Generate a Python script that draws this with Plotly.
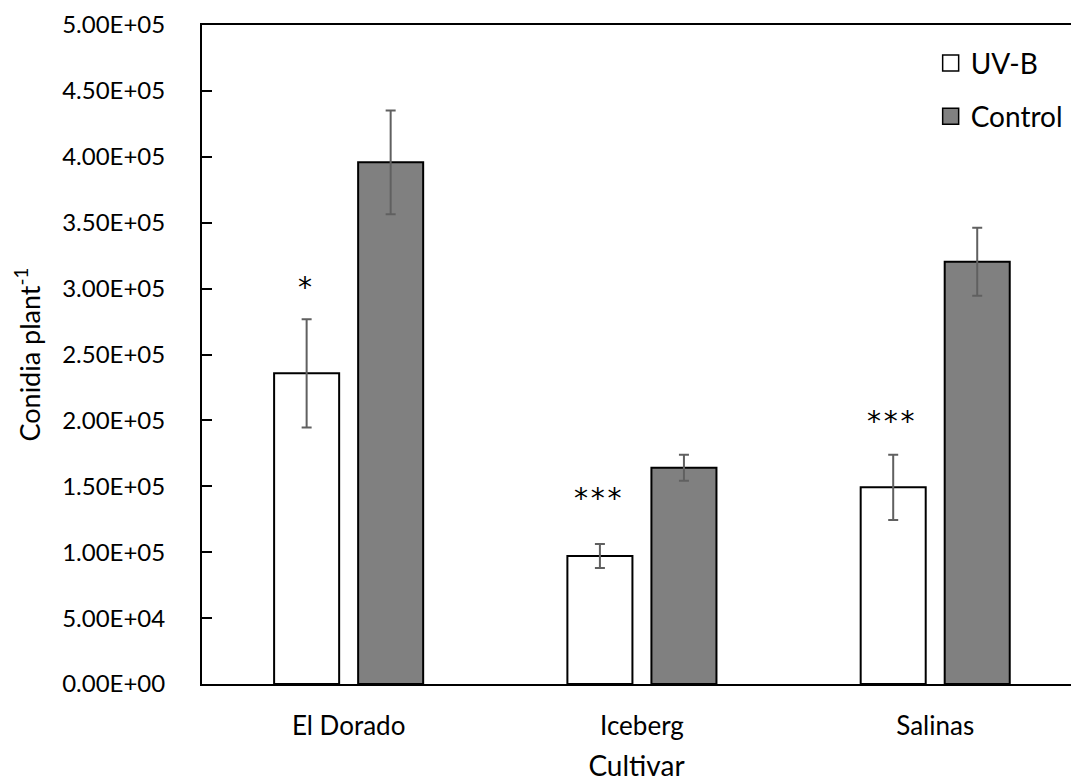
import plotly.graph_objects as go

# Conidia production per plant for three lettuce cultivars
cultivars = ["El Dorado", "Iceberg", "Salinas"]
uvb_mean = [235700, 97100, 149200]
uvb_err = [41000, 9100, 24800]
control_mean = [395800, 164100, 320400]
control_err = [39300, 9900, 25800]
significance = ["*", "***", "***"]

y_ticks = [i * 50000 for i in range(11)]
y_labels = [f"{v:.2E}" for v in y_ticks]

FONT = "Lato"
BAR_EDGE = dict(color="black", width=2)
ERR_STYLE = dict(type="data", visible=True, color="#606060", thickness=2, width=5)

fig = go.Figure()

fig.add_trace(go.Bar(
    x=cultivars, y=uvb_mean, name="UV-B",
    marker=dict(color="white", line=BAR_EDGE),
    error_y=dict(array=uvb_err, **ERR_STYLE),
    showlegend=False,
))
fig.add_trace(go.Bar(
    x=cultivars, y=control_mean, name="Control",
    marker=dict(color="#808080", line=BAR_EDGE),
    error_y=dict(array=control_err, **ERR_STYLE),
    showlegend=False,
))

# Legend entries with square swatches
for name, fill, grp in [("UV-B", "white", "a"), ("Control", "#808080", "b")]:
    fig.add_trace(go.Scatter(
        x=[None], y=[None], mode="markers", name=name, legendgroup=grp,
        marker=dict(symbol="square", size=16, color=fill,
                    line=dict(color="black", width=1.5)),
    ))

# Significance markers above the UV-B bars
star_offset = [28000, 38000, 29000]
for i, (c, s) in enumerate(zip(cultivars, significance)):
    fig.add_annotation(
        x=c, y=uvb_mean[i] + uvb_err[i] + star_offset[i], xref="x", yref="y",
        text="\u200a".join(s), showarrow=False, xshift=-44, yshift=-5,
        font=dict(family="DejaVu Sans", size=28, color="black"),
    )

fig.update_layout(
    width=1071, height=782,
    margin=dict(l=202, r=0, t=25, b=98),
    paper_bgcolor="white", plot_bgcolor="white",
    barmode="group", bargap=0.427, bargroupgap=0.226,
    font=dict(family=FONT, size=26, color="black"),
    legend=dict(x=0.8385, y=0.98, xanchor="left", yanchor="top",
                bgcolor="rgba(0,0,0,0)", tracegroupgap=14,
                traceorder="grouped", font=dict(size=28)),
)

fig.update_xaxes(
    range=[-0.5, 2.463], showline=True, linecolor="black", linewidth=2,
    mirror=True, ticks="", showgrid=False, ticklabelstandoff=18,
    tickfont=dict(size=26),
    title=dict(text="Cultivar", standoff=18, font=dict(size=28)),
)
fig.update_yaxes(
    range=[0, 500000], tickvals=y_ticks, ticktext=y_labels,
    showline=True, linecolor="black", linewidth=2, mirror=False,
    ticks="inside", ticklen=10, tickwidth=2, tickcolor="black",
    showgrid=False, zeroline=False, ticklabelstandoff=30,
    tickfont=dict(size=24),
    title=dict(text="Conidia plant<sup>-1</sup>", standoff=14,
               font=dict(size=27)),
)

fig.write_html("out.html")
